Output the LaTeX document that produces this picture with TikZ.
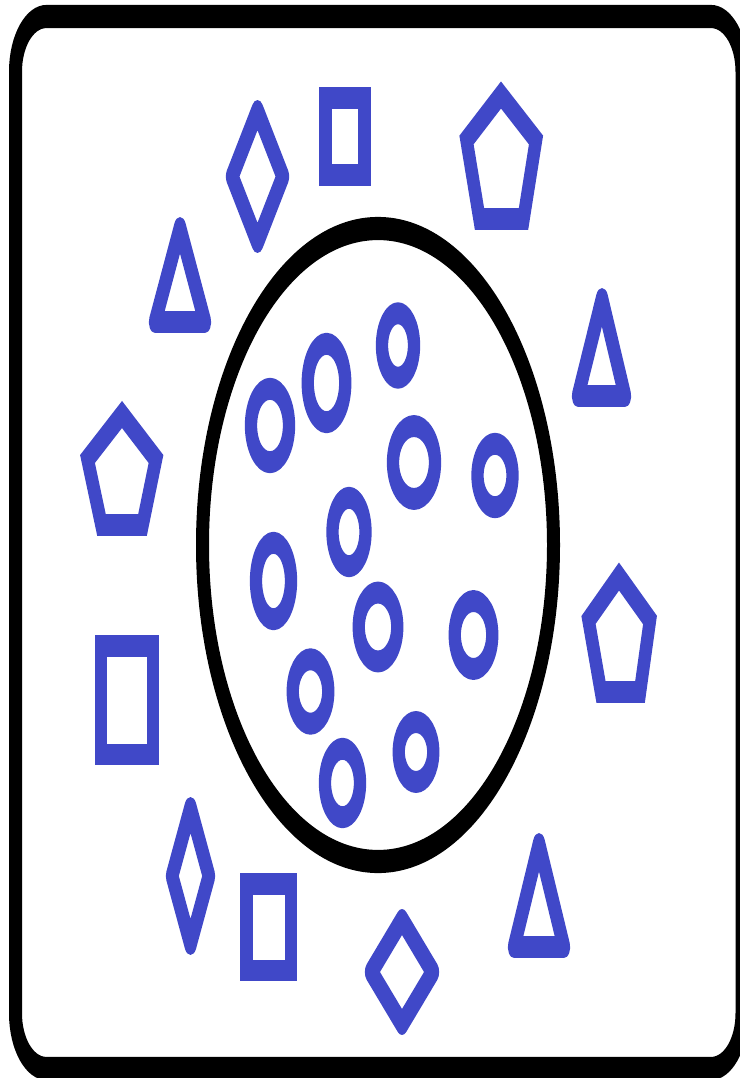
\documentclass[tikz,border=0pt]{standalone}
\definecolor{shapeblue}{RGB}{64,72,200}
\def\ks{1.78}
\tikzset{
  frameline/.style={draw=black, line width=13pt, rounded corners=31pt},
  bigcell/.style={draw=black, line width=13pt},
  bshape/.style={draw=shapeblue, line width=12.3pt, line join=round},
  bsquare/.style={draw=shapeblue, line width=12.3pt, line join=miter},
}
\newcommand\blob[4]{\draw[bshape] (#1,#2) ellipse [x radius=#3pt, y radius={#4pt/\ks}];}
\begin{document}
\begin{tikzpicture}
\useasboundingbox (0pt,0pt) rectangle (739pt,-1078pt);
\fill[white] (0pt,0pt) rectangle (739pt,-1078pt);
\begin{scope}[transform canvas={yscale=\ks}, x=1pt, y=-0.561798pt]
  % outer frame
  \draw[frameline] (15.5,16.5) rectangle (742,1068.5);
  % big cell
  \draw[bigcell] (378,545) ellipse [x radius=175.5pt, y radius={316.5pt/\ks}];
  % small ellipses inside
  \blob{398}{345.5}{16}{32.25}
  \blob{326.5}{383}{18.75}{39.25}
  \blob{270}{425.5}{19}{36.75}
  \blob{414}{462.5}{21}{36.5}
  \blob{495}{475.5}{17.5}{31.75}
  \blob{349}{532}{16.5}{34.25}
  \blob{273.5}{581}{17.5}{38.25}
  \blob{378}{627}{19.25}{34.5}
  \blob{473.5}{635}{18.75}{34}
  \blob{310.5}{691.5}{17.75}{32.25}
  \blob{416}{752}{17.25}{30}
  \blob{342.5}{783}{17.5}{34.25}
  % diamonds
  \draw[bshape] (257.5,111) -- (283,176.5) -- (257.5,242) -- (232,176.5) -- cycle;
  \draw[bshape] (190.5,808) -- (209,876) -- (190.5,944) -- (172,876) -- cycle;
  \draw[bshape] (402,920) -- (433,972) -- (402,1024) -- (371,972) -- cycle;
  % triangles
  \draw[bshape] (180,228) -- (205,322) -- (155,322) -- cycle;
  \draw[bshape] (602,299) -- (625,396) -- (578,396) -- cycle;
  \draw[bshape] (539,844) -- (564,947) -- (514,947) -- cycle;
  % pentagons
  \draw[bsquare] (501,95) -- (536,140) -- (523.5,219) -- (479.5,219) -- (466.5,140) -- cycle;
  \draw[bsquare] (122,414.5) -- (156,459) -- (142.5,525) -- (101.5,525) -- (87.5,459) -- cycle;
  \draw[bsquare] (619,576.5) -- (650,620) -- (640,692) -- (601,692) -- (588.5,620) -- cycle;
  % squares
  \draw[bsquare] (325.5,98) rectangle (364.5,175);
  \draw[bsquare] (101,646) rectangle (153,754.5);
  \draw[bsquare] (246.5,884) rectangle (291,970.5);
\end{scope}
\end{tikzpicture}
\end{document}
